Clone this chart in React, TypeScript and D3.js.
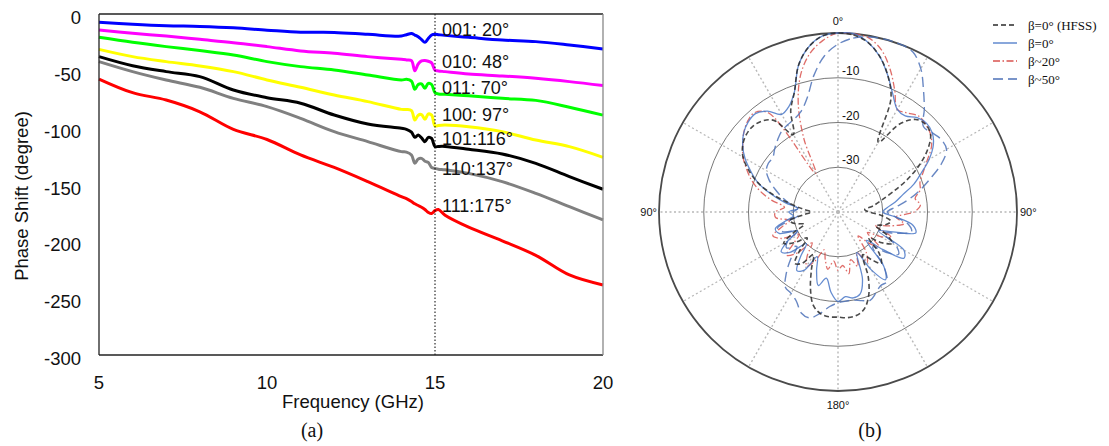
import React from "react";
import * as d3 from "d3";

// ---------- (a) phase shift vs frequency ----------
const FREQS = [5, 6, 7, 8, 9, 10, 11, 12, 13, 14, 14.15, 14.3, 14.4, 14.5, 14.6, 14.7, 14.8, 14.9, 15, 15.1, 15.3, 16, 17, 18, 19, 20];

const S001 = [-7.3, -9, -10.3, -11, -12.2, -14.2, -16, -16.2, -17.9, -19.4, -18.2, -17.2, -18.5, -20, -22.5, -24.9, -21.5, -18.5, -17.9, -18.2, -18.8, -20.5, -22.9, -24.3, -27.3, -30.8];
const S010 = [-14.1, -17, -19.4, -22.3, -25.2, -28.7, -32.5, -34.6, -37.5, -39.9, -40.4, -41, -49.9, -44, -41.3, -40.9, -41.6, -43, -49.3, -50.1, -50.7, -52.8, -54.5, -56.6, -59.5, -63];
const S011 = [-20.5, -24.9, -28.7, -32.2, -36, -41.9, -46.3, -49.3, -53.7, -58.1, -57.5, -59, -66.3, -62, -61.5, -65.4, -61, -62, -69.2, -70.3, -70.6, -72, -74.2, -76, -82, -89];
const S100 = [-31.1, -37.5, -41.9, -45.7, -50.7, -58, -64.5, -71.3, -77.1, -83.9, -84, -85, -93.3, -89, -88.5, -92.7, -88, -89, -98.5, -98, -97.7, -99.1, -103.5, -110.9, -116.7, -126.1];
const S101 = [-37.5, -45.5, -50.7, -55.1, -66.9, -73.6, -78.5, -88.9, -96.8, -100.6, -101.5, -104, -108.5, -106.5, -109, -112.3, -108.5, -109.5, -116.7, -116.5, -116.5, -119, -123.2, -131.4, -143.1, -154.2];
const S110 = [-41.9, -50.7, -58.1, -64.5, -74.2, -81.5, -91.8, -103.5, -112.3, -121.1, -121.5, -124, -131.4, -127.5, -127, -129.5, -130.5, -135, -135.8, -136.5, -137, -140.2, -147.5, -157.8, -169.5, -181.2];
const S111 = [-57.2, -69.2, -75.7, -86, -101.5, -110.4, -124, -135, -147.5, -160.7, -162.5, -165, -167, -168.5, -170, -172, -174.5, -175.5, -173, -172, -177, -187.5, -199.5, -212.3, -229.6, -238.4];

const STATE_LABELS = ["001: 20°", "010: 48°", "011: 70°", "100: 97°", "101:116°", "110:137°", "111:175°"];
const STATE_COLORS = ["#0000ff", "#ff00ff", "#00ff00", "#ffff00", "#000000", "#808080", "#ff0000"];
const X_TICKS = [5, 10, 15, 20];
const Y_TICKS = [0, -50, -100, -150, -200, -250, -300];
const MARKER_FREQ = 15;

// ---------- (b) radiation pattern ----------
const PATTERN_ANGLES = d3.range(0, 360, 5);

const PAT_HFSS = [0, -0.3, -1.5, -4, -7.5, -12, -22, -16, -13, -12.3, -13, -15.5, -19, -23, -27, -30, -32, -34, -33, -30, -28, -29, -31, -28, -26, -28, -31, -27, -25, -27, -29, -24, -20, -17.5, -16.5, -16.3, -16.5, -16.5, -17, -18.5, -22, -26, -29, -26, -25, -28, -31, -28, -26, -29, -32, -30, -29, -32, -34, -32, -29, -25, -21, -18, -15.5, -14, -13.2, -13, -13.5, -15, -20, -15, -11.5, -6, -2.5, -0.5];
const PAT_B0 = [0, 0, -1.5, -4, -7.5, -11, -13.5, -13.8, -12.5, -12, -12.5, -14, -16.5, -19.5, -22, -25, -27, -29, -30, -27, -23, -22, -27, -30, -23, -22, -27, -31, -24, -21.5, -25, -30, -24, -21, -20.5, -21, -20, -22, -25, -23, -26, -29, -25, -24, -27, -30, -26, -24.5, -27, -30, -26, -25.5, -28, -30, -29, -31, -28, -24.5, -21, -18.5, -16, -14, -12.5, -11.6, -11.3, -12.5, -14.8, -14, -11.5, -6, -2.5, -0.5];
const PAT_B20 = [0, 0, -0.5, -2.5, -6, -10, -13.5, -13, -12, -12.3, -13, -14.5, -17, -19, -20.5, -21, -22.5, -21.5, -23, -27, -25, -28, -31, -27, -29, -32, -28, -30, -33, -29, -27, -30, -27, -29, -26, -28, -27, -29, -27, -29, -31, -28, -26, -28, -31, -27, -25, -28, -30, -26, -24.5, -27, -29, -26, -26, -28, -25, -22, -19.5, -17.5, -15.5, -14, -12.5, -11.4, -11, -13, -30, -22, -14, -8, -4, -1.5];
const PAT_B50 = [-2.5, -1, -0.3, 0, 0, -0.5, -3, -6.7, -10, -13, -12.5, -11.8, -12, -14.5, -18, -21, -24, -27, -29, -27, -24, -23, -26, -29, -25, -23.5, -26, -29, -24, -21, -21, -20, -19, -19.5, -20, -20, -19.7, -18.8, -17, -15.5, -16, -18, -19, -19.5, -22, -25, -28, -26, -27, -30, -27, -26, -29, -31, -30, -31, -29, -27, -25, -23, -21.5, -21, -21, -20, -19, -18, -17.5, -17, -16, -13.5, -9, -5];

const RINGS = [-10, -20, -30];
const SPOKES = d3.range(0, 360, 30);
const LEGEND_LABELS = ["β=0° (HFSS)", "β=0°", "β~20°", "β~50°"];

const SANS = "'Liberation Sans', Arial, Helvetica, sans-serif";
const SERIF = "'Liberation Serif', 'Times New Roman', serif";

export default function App() {
  // ----- panel (a) -----
  const x = d3.scaleLinear().domain([5, 20]).range([99, 603]);
  const y = d3.scaleLinear().domain([-300, 0]).range([355, 14]);
  const phaseLine = d3
    .line<number>()
    .x((_, i) => x(FREQS[i]))
    .y((d) => y(d))
    .curve(d3.curveCatmullRom.alpha(0.5));

  const states = [S001, S010, S011, S100, S101, S110, S111];
  const markerIdx = FREQS.indexOf(MARKER_FREQ);
  const labelDy = [1.7, -2.3, 1.3, -4.5, -1.6, 6.6, 0.9];

  // ----- panel (b) -----
  const cx = 838;
  const cy = 212;
  const R = 179;
  const rr = d3.scaleLinear().domain([-40, 0]).range([0, R]).clamp(true);
  const radial = d3
    .lineRadial<number>()
    .angle((_, i) => (PATTERN_ANGLES[i] * Math.PI) / 180)
    .radius((d) => rr(d))
    .curve(d3.curveCatmullRomClosed.alpha(0.5));

  const patStyles = [
    { data: PAT_B20, stroke: "#d9534f", width: 1.3, dash: "7,2.5,1.5,2.5" },
    { data: PAT_B0, stroke: "#4a78c8", width: 1.3, dash: "none" },
    { data: PAT_B50, stroke: "#4d72b8", width: 1.4, dash: "10,5" },
    { data: PAT_HFSS, stroke: "#2a2a2a", width: 1.6, dash: "5,3" },
  ];
  const legendStyles = [patStyles[3], patStyles[1], patStyles[0], patStyles[2]];

  return (
    <svg
      width={1109}
      height={446}
      style={{ position: "absolute", left: 0, top: 0, background: "#fff" }}
    >
      {/* ---------- panel (a) ---------- */}
      <g>
        {Y_TICKS.map((t) => (
          <text
            key={t}
            x={81}
            y={y(t) + 10}
            textAnchor="end"
            fontFamily={SANS}
            fontSize={18.5}
            fill="#111"
          >
            {t}
          </text>
        ))}
        {X_TICKS.map((t) => (
          <text
            key={t}
            x={x(t)}
            y={389}
            textAnchor="middle"
            fontFamily={SANS}
            fontSize={18.5}
            fill="#111"
          >
            {t}
          </text>
        ))}
        <text
          x={353}
          y={408}
          textAnchor="middle"
          fontFamily={SANS}
          fontSize={18.5}
          fill="#111"
        >
          Frequency (GHz)
        </text>
        <text
          transform="translate(27.5,196) rotate(-90)"
          textAnchor="middle"
          fontFamily={SANS}
          fontSize={18.5}
          fill="#111"
        >
          Phase Shift (degree)
        </text>

        {states.map((vals, i) => (
          <path
            key={i}
            d={phaseLine(vals) || ""}
            fill="none"
            stroke={STATE_COLORS[i]}
            strokeWidth={3}
            strokeLinejoin="round"
          />
        ))}

        <line
          x1={x(MARKER_FREQ)}
          x2={x(MARKER_FREQ)}
          y1={y(0)}
          y2={y(-300)}
          stroke="#000"
          strokeWidth={1}
          strokeDasharray="1.5,2"
        />

        {STATE_LABELS.map((lab, i) => (
          <text
            key={lab}
            x={442}
            y={y(states[i][markerIdx]) + labelDy[i]}
            fontFamily={SANS}
            fontSize={18}
            fill="#111"
          >
            {lab}
          </text>
        ))}

        {/* frame */}
        <line x1={99} x2={603} y1={14} y2={14} stroke="#222" strokeWidth={1.3} />
        <line x1={99} x2={99} y1={14} y2={355} stroke="#222" strokeWidth={1.3} />
        <line x1={99} x2={603} y1={355} y2={355} stroke="#222" strokeWidth={1.3} />
        <line x1={603} x2={603} y1={14} y2={355} stroke="#888" strokeWidth={1.3} />

        <text x={312} y={437} textAnchor="middle" fontFamily={SERIF} fontSize={20} fill="#111">
          (a)
        </text>
      </g>

      {/* ---------- panel (b) ---------- */}
      <g transform={`translate(${cx},${cy})`}>
        {SPOKES.map((a) => {
          const t = (a * Math.PI) / 180;
          return (
            <line
              key={a}
              x1={0}
              y1={0}
              x2={R * Math.sin(t)}
              y2={-R * Math.cos(t)}
              stroke="#b8b8b8"
              strokeWidth={1.4}
              strokeDasharray="2,2.5"
            />
          );
        })}
        {RINGS.map((v) => (
          <circle key={v} r={rr(v)} fill="none" stroke="#555" strokeWidth={0.8} />
        ))}
        <circle r={R} fill="none" stroke="#4a4a4a" strokeWidth={1.8} />

        {RINGS.map((v) => (
          <text
            key={v}
            x={4}
            y={-rr(v) - 3}
            fontFamily={SANS}
            fontSize={12}
            fill="#111"
          >
            {v}
          </text>
        ))}

        {patStyles.map((s, i) => (
          <path
            key={i}
            d={radial(s.data) || ""}
            fill="none"
            stroke={s.stroke}
            strokeWidth={s.width}
            strokeDasharray={s.dash}
            strokeOpacity={0.85}
            strokeLinejoin="round"
          />
        ))}

        <text x={0} y={-R - 8} textAnchor="middle" fontFamily={SANS} fontSize={11} fill="#111">
          0°
        </text>
        <text x={-R - 2} y={4} textAnchor="end" fontFamily={SANS} fontSize={11} fill="#111">
          90°
        </text>
        <text x={R + 3} y={4} textAnchor="start" fontFamily={SANS} fontSize={11} fill="#111">
          90°
        </text>
        <text x={0} y={R + 18} textAnchor="middle" fontFamily={SANS} fontSize={11} fill="#111">
          180°
        </text>
      </g>

      {/* legend */}
      <g>
        {LEGEND_LABELS.map((lab, i) => {
          const ly = 25 + i * 18;
          const s = legendStyles[i];
          return (
            <g key={lab}>
              <line
                x1={993}
                x2={1017}
                y1={ly}
                y2={ly}
                stroke={s.stroke}
                strokeWidth={s.width}
                strokeDasharray={s.dash}
              />
              <text x={1028} y={ly + 4.5} fontFamily={SERIF} fontSize={13} fill="#111">
                {lab}
              </text>
            </g>
          );
        })}
      </g>

      <text x={870} y={437} textAnchor="middle" fontFamily={SERIF} fontSize={20} fill="#111">
        (b)
      </text>
    </svg>
  );
}
